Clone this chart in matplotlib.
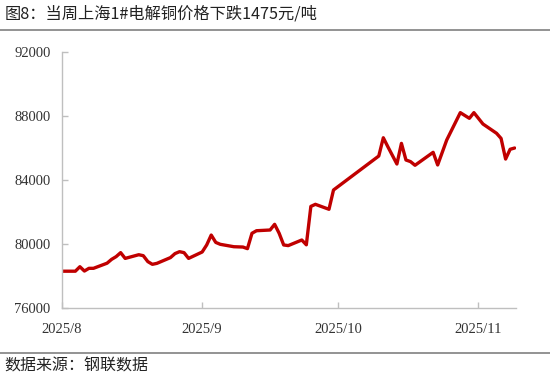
import matplotlib
matplotlib.use("Agg")
import matplotlib.pyplot as plt
import pandas as pd
from matplotlib.lines import Line2D

plt.rcParams['font.family'] = ['Noto Sans CJK SC', 'DejaVu Sans']

title = "图8：当周上海1#电解铜价格下跌1475元/吨"
source = "数据来源：钢联数据"

dates = [
    "2025-08-01", "2025-08-04", "2025-08-05", "2025-08-06", "2025-08-07", "2025-08-08",
    "2025-08-11", "2025-08-12", "2025-08-13", "2025-08-14", "2025-08-15", "2025-08-18",
    "2025-08-19", "2025-08-20", "2025-08-21", "2025-08-22", "2025-08-25", "2025-08-26",
    "2025-08-27", "2025-08-28", "2025-08-29", "2025-09-01", "2025-09-02", "2025-09-03",
    "2025-09-04", "2025-09-05", "2025-09-08", "2025-09-10", "2025-09-11", "2025-09-12",
    "2025-09-13", "2025-09-16", "2025-09-17", "2025-09-18", "2025-09-19", "2025-09-20",
    "2025-09-23", "2025-09-24", "2025-09-25", "2025-09-26", "2025-09-29", "2025-09-30",
    "2025-10-10", "2025-10-11", "2025-10-12", "2025-10-14", "2025-10-15", "2025-10-16",
    "2025-10-17", "2025-10-18", "2025-10-22", "2025-10-23", "2025-10-25", "2025-10-28",
    "2025-10-30", "2025-10-31", "2025-11-02", "2025-11-05", "2025-11-06", "2025-11-07",
    "2025-11-08", "2025-11-09",
]
prices = [
    78300, 78300, 78580, 78310, 78480, 78480,
    78800, 79040, 79210, 79460, 79100, 79330,
    79270, 78900, 78730, 78790, 79150, 79400,
    79520, 79460, 79100, 79500, 79940, 80560,
    80100, 79980, 79830, 79810, 79710, 80670,
    80830, 80875, 81230, 80670, 79940, 79900,
    80250, 79950, 82350, 82480, 82170, 83375,
    85500, 86640, 86080, 85000, 86290, 85250,
    85150, 84920, 85730, 84940, 86500, 88210,
    87855, 88210, 87500, 86920, 86600, 85310,
    85920, 86000,
]
yticks = [76000, 80000, 84000, 88000, 92000]
xtick_dates = ["2025-08-01", "2025-09-01", "2025-10-01", "2025-11-01"]
xtick_labels = ["2025/8", "2025/9", "2025/10", "2025/11"]

x = pd.to_datetime(dates)

fig = plt.figure(figsize=(5.5, 3.81), dpi=100)
ax = fig.add_axes([0.1123, 0.1916, 0.9378 - 0.1123, 0.8635 - 0.1916])

ax.plot(x, prices, color="#C00000", lw=2.4, solid_joinstyle="round", solid_capstyle="round")

ax.set_ylim(76000, 92000)
ax.set_xlim(pd.Timestamp("2025-08-01"), pd.Timestamp("2025-11-09 06:00"))
ax.set_yticks(yticks)
ax.set_yticklabels([str(v) for v in yticks])
ax.set_xticks(pd.to_datetime(xtick_dates))
ax.set_xticklabels(xtick_labels)

serif = ["Liberation Serif", "DejaVu Serif"]
for lab in ax.get_xticklabels() + ax.get_yticklabels():
    lab.set_family(serif)
    lab.set_fontsize(10.5)
    lab.set_color("#333333")

for s in ["top", "right"]:
    ax.spines[s].set_visible(False)
for s in ["left", "bottom"]:
    ax.spines[s].set_color("#BFBFBF")
    ax.spines[s].set_linewidth(1.0)

ax.tick_params(axis="both", direction="in", length=4, width=1.0, color="#BFBFBF")
ax.tick_params(axis="x", pad=11)
ax.tick_params(axis="y", pad=8)

fig.text(0.008, 0.962, title, fontsize=11.7, color="#222222", va="center", ha="left")
fig.text(0.008, 0.040, source, fontsize=11.5, color="#222222", va="center", ha="left")

fig.add_artist(Line2D([0, 1], [1 - 30 / 381, 1 - 30 / 381], transform=fig.transFigure,
                      color="#808080", lw=1.2))
fig.add_artist(Line2D([0, 1], [1 - 353 / 381, 1 - 353 / 381], transform=fig.transFigure,
                      color="#808080", lw=1.2))

fig.savefig("out.png", dpi=100)
